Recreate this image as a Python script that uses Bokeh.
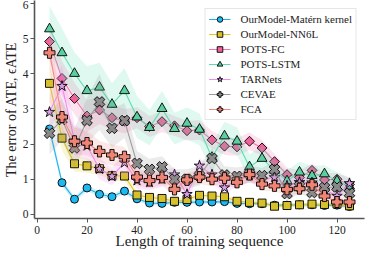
import math
from bokeh.plotting import figure
from bokeh.models import Range1d, FixedTicker, Legend, LegendItem
from bokeh.embed import file_html
from bokeh.resources import INLINE

seq_len = [5, 10, 15, 20, 25, 30, 35, 40, 45, 50, 55, 60, 65, 70, 75, 80, 85, 90, 95, 100, 105, 110, 115, 120, 125]

matern_mean = [2.43, 0.90, 0.43, 0.75, 0.57, 0.50, 0.66, 0.44, 0.32, 0.31, 0.34, 0.34, 0.35, 0.35, 0.36, 0.31, 0.30, 0.30, 0.26, 0.26, 0.27, 0.27, 0.25, 0.26, 0.22]
matern_std = [0.15, 0.10, 0.08, 0.09, 0.08, 0.07, 0.08, 0.07, 0.06, 0.06, 0.06, 0.06, 0.06, 0.06, 0.06, 0.06, 0.05, 0.05, 0.05, 0.05, 0.05, 0.05, 0.05, 0.05, 0.05]

nn6l_mean = [3.73, 2.17, 1.44, 1.38, 1.30, 1.10, 1.09, 0.55, 0.48, 0.45, 0.37, 0.42, 0.54, 0.52, 0.50, 0.37, 0.34, 0.32, 0.23, 0.25, 0.27, 0.29, 0.28, 0.29, 0.24]
nn6l_std = [0.50, 0.35, 0.22, 0.20, 0.18, 0.15, 0.15, 0.10, 0.09, 0.08, 0.08, 0.08, 0.08, 0.08, 0.08, 0.07, 0.07, 0.07, 0.06, 0.06, 0.06, 0.06, 0.06, 0.06, 0.06]

pots_fc_mean = [4.92, 3.87, 3.30, 2.80, 2.97, 2.75, 2.65, 2.75, 2.50, 2.64, 2.52, 2.38, 2.40, 2.12, 1.94, 1.92, 2.08, 1.89, 1.50, 1.13, 1.05, 1.25, 0.98, 1.00, 0.85]
pots_fc_std = [0.55, 0.50, 0.45, 0.45, 0.40, 0.35, 0.35, 0.30, 0.30, 0.30, 0.28, 0.28, 0.28, 0.25, 0.25, 0.25, 0.25, 0.22, 0.22, 0.20, 0.20, 0.20, 0.18, 0.18, 0.18]

pots_lstm_mean = [5.28, 4.60, 4.01, 3.52, 3.62, 3.13, 3.52, 2.77, 2.47, 3.01, 2.44, 2.59, 2.42, 1.62, 2.23, 2.08, 1.35, 1.59, 1.25, 0.95, 1.20, 1.10, 1.15, 0.95, 0.80]
pots_lstm_std = [0.65, 0.70, 0.60, 0.70, 0.70, 0.60, 0.65, 0.60, 0.50, 0.50, 0.45, 0.45, 0.45, 0.40, 0.40, 0.40, 0.35, 0.35, 0.30, 0.30, 0.30, 0.28, 0.25, 0.25, 0.25]

tarnets_mean = [2.91, 3.65, 2.10, 1.95, 1.29, 1.08, 1.47, 0.96, 0.91, 1.00, 1.13, 0.57, 1.38, 1.13, 0.76, 1.00, 1.10, 1.00, 1.05, 0.81, 0.91, 0.90, 0.70, 0.52, 0.88]
tarnets_std = [0.50, 0.60, 0.45, 0.40, 0.30, 0.25, 0.30, 0.25, 0.22, 0.22, 0.22, 0.20, 0.22, 0.20, 0.20, 0.20, 0.20, 0.18, 0.18, 0.18, 0.15, 0.15, 0.15, 0.15, 0.15]

cevae_mean = [2.31, 2.70, 1.89, 2.67, 3.20, 2.45, 2.67, 1.45, 1.28, 1.35, 1.00, 1.00, 1.10, 1.59, 1.12, 1.08, 1.15, 1.10, 1.28, 0.59, 0.80, 0.62, 0.76, 0.78, 0.60]
cevae_std = [0.60, 0.60, 0.55, 0.65, 0.80, 0.55, 0.50, 0.35, 0.30, 0.30, 0.28, 0.28, 0.28, 0.30, 0.25, 0.25, 0.25, 0.22, 0.22, 0.20, 0.20, 0.18, 0.18, 0.18, 0.18]

fca_mean = [4.60, 2.77, 2.08, 2.03, 1.79, 1.69, 1.64, 1.06, 0.96, 1.05, 0.71, 0.98, 1.06, 1.00, 1.03, 0.91, 1.13, 0.86, 0.81, 0.71, 0.73, 0.84, 0.52, 0.35, 0.35]
fca_std = [0.45, 0.45, 0.40, 0.35, 0.30, 0.30, 0.28, 0.25, 0.22, 0.22, 0.20, 0.20, 0.20, 0.20, 0.18, 0.18, 0.18, 0.18, 0.16, 0.16, 0.15, 0.15, 0.15, 0.15, 0.15]

series_names = ["OurModel-Matérn kernel", "OurModel-NN6L", "POTS-FC", "POTS-LSTM", "TARNets", "CEVAE", "FCA"]

x_ticks = [0, 20, 40, 60, 80, 100, 120]
y_ticks = [0, 1, 2, 3, 4, 5, 6]

# name, mean, std, line colour, fill colour, marker, angle, size
series = [
    (series_names[0], matern_mean, matern_std, "#1cb4ee", "#1db9f0", "circle", 0.0, 8),
    (series_names[1], nn6l_mean, nn6l_std, "#e2c81a", "#d6c02c", "square", 0.0, 8),
    (series_names[2], pots_fc_mean, pots_fc_std, "#f774aa", "#f0609a", "square", math.pi / 4, 7),
    (series_names[3], pots_lstm_mean, pots_lstm_std, "#5ddcb2", "#5ccfa0", "triangle", 0.0, 10),
    (series_names[4], tarnets_mean, tarnets_std, "#ee8cf2", "#d99ce6", "star", 0.0, 11),
    (series_names[5], cevae_mean, cevae_std, "#9c9c9c", "#8a8a8a", "plus", math.pi / 4, 11),
    (series_names[6], fca_mean, fca_std, "#f28a80", "#ef8474", "plus", 0.0, 11),
]

FONT = "Liberation Serif"

p = figure(width=366, height=251, output_backend="svg", toolbar_location=None,
           x_range=Range1d(-1, 131), y_range=Range1d(-0.12, 6.09),
           min_border_left=27, min_border_right=2, min_border_top=0, min_border_bottom=0)
p.outline_line_color = None
p.grid.grid_line_color = None
p.background_fill_color = "white"

items = []
for name, mean, std, lcol, fcol, marker, ang, sz in series:
    lo = [m - s for m, s in zip(mean, std)]
    hi = [m + s for m, s in zip(mean, std)]
    p.varea(x=seq_len, y1=lo, y2=hi, fill_color=lcol, fill_alpha=0.2)
    r_line = p.line(seq_len, mean, line_color=lcol, line_width=1.1)
    r_pts = p.scatter(seq_len, mean, marker=marker, angle=ang, size=sz,
                      fill_color=fcol, line_color="black", line_width=0.9)
    items.append(LegendItem(label=name, renderers=[r_line, r_pts]))

p.xaxis.ticker = FixedTicker(ticks=x_ticks)
p.yaxis.ticker = FixedTicker(ticks=y_ticks)
for ax in (p.xaxis[0], p.yaxis[0]):
    ax.axis_line_color = "#555555"
    ax.axis_line_width = 1.6
    ax.major_tick_line_color = "#555555"
    ax.major_tick_out = 4
    ax.major_tick_in = 0
    ax.minor_tick_line_color = None
    ax.major_label_text_font = FONT
    ax.major_label_text_font_size = "11.5px"
    ax.major_label_text_color = "#222222"
    ax.axis_label_text_font = FONT
    ax.axis_label_text_font_style = "normal"
    ax.axis_label_text_color = "#222222"

p.xaxis.axis_label = "Length of training sequence"
p.xaxis.axis_label_text_font_size = "15px"
p.xaxis.major_label_standoff = 3
p.xaxis.axis_label_standoff = -4
p.yaxis.axis_label = "The error of ATE, ϵATE"
p.yaxis.axis_label_text_font_size = "14px"
p.yaxis.major_label_standoff = 2
p.yaxis.axis_label_standoff = 1

legend = Legend(items=items, location="top_right")
legend.label_text_font = FONT
legend.label_text_font_size = "11px"
legend.label_text_color = "#222222"
legend.glyph_width = 22
legend.glyph_height = 14
legend.label_height = 14
legend.spacing = 1
legend.padding = 3
legend.margin = 8
legend.label_standoff = 10
legend.border_line_color = "#cccccc"
legend.border_line_width = 1
legend.background_fill_alpha = 0.85
p.add_layout(legend)

open("out.html", "w").write(file_html(p, INLINE))
